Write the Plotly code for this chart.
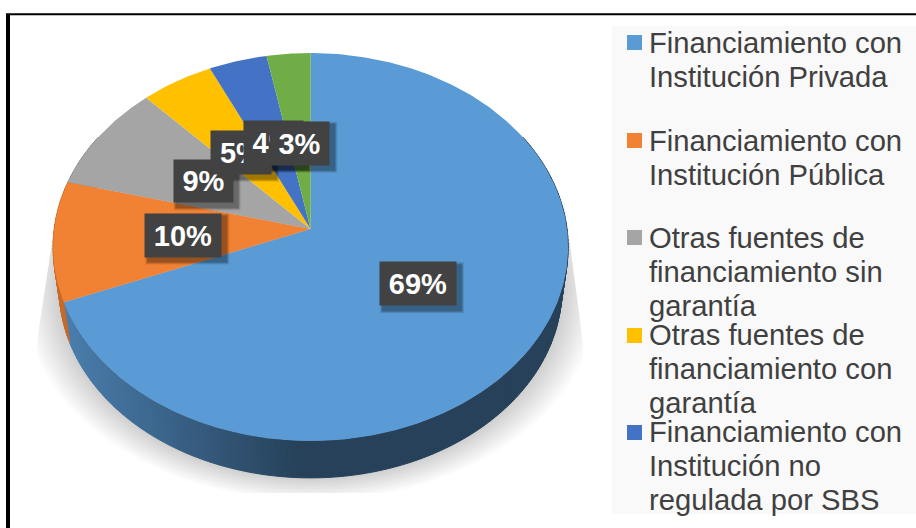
import numpy as np
import plotly.graph_objects as go

# ---- data ----
shares = [69, 10, 9, 5, 4, 3]
slice_colors = ["#5B9BD5", "#F28233", "#A5A5A5", "#FFC000", "#4472C4", "#70AD47"]
legend_lines = [
    ["Financiamiento con", "Institución Privada"],
    ["Financiamiento con", "Institución Pública"],
    ["Otras fuentes de", "financiamiento sin", "garantía"],
    ["Otras fuentes de", "financiamiento con", "garantía"],
    ["Financiamiento con", "Institución no", "regulada por SBS"],
]

# ---- drawing geometry (pixel-like axes over the 916x528 canvas) ----
CX, CY = 310.6, 229
A, B, K = 256.4, 192.3, 0.0928      # perspective disc
RIM_SCALE, RIM_Y = 0.976, 271
FONT = "Liberation Sans, Arial, sans-serif"
legend_first_baseline = [52, 150, 247, 344, 441]
legend_square_top = [35, 133, 230, 328, 425]
label_reach = [0.48, 0.495, 0.51, 0.52, 0.515, 0.49]


def disc(theta):
    s, c = np.sin(theta), np.cos(theta)
    w = 1 + K * c
    return A * s / w, B * c / w


def top_pt(theta):
    x, y = disc(theta)
    return CX + x, CY - y


def rim_pt(theta):
    x, y = disc(theta)
    return CX + RIM_SCALE * x, RIM_Y - RIM_SCALE * y


def shade(hex_color, f):
    r, g, b = (int(hex_color[i:i + 2], 16) for i in (1, 3, 5))
    return f"rgb({int(r * f)},{int(g * f)},{int(b * f)})"


fig = go.Figure()


def poly(xs, ys, color, line=False):
    fig.add_trace(go.Scatter(
        x=xs, y=ys, mode="lines", fill="toself", fillcolor=color,
        line=dict(color=color, width=1 if line else 0),
        hoverinfo="skip", showlegend=False))


# soft clipped shadow
th = np.radians(np.linspace(50, 310, 160))
for d in np.linspace(36, 2, 16):
    rx, ry = disc(th)
    xs = CX + RIM_SCALE * rx * (1 + d / 250)
    ys = RIM_Y - RIM_SCALE * ry * (1 + d / 420) + d * 0.14
    ys = np.minimum(ys, 493)
    left = np.where(ys < 340, 53 - (ys - 235) * 16 / 105, 37)
    right = np.where(ys < 340, 569 + (ys - 235) * 14 / 105, 583)
    xs = np.clip(xs, left, right)
    poly(list(xs) + [CX], list(ys) + [CY], "rgba(0,0,0,0.0135)")

edges = np.cumsum([0] + shares) / sum(shares) * 2 * np.pi

# rim of the disc, darkened towards the front
for i, col in enumerate(slice_colors):
    a0 = max(edges[i], np.radians(60))
    a1 = min(edges[i + 1], np.radians(300))
    if a1 <= a0:
        continue
    steps = np.linspace(a0, a1, max(2, int(np.degrees(a1 - a0)) + 1))
    for t0, t1 in zip(steps[:-1], steps[1:]):
        tm = (t0 + t1) / 2
        xm = rim_pt(tm)[0]
        if xm < 300:
            f = 0.42 + (300 - xm) / 235 * 0.40
        else:
            f = 0.42
        tx0, ty0 = top_pt(t0)
        tx1, ty1 = top_pt(t1)
        bx0, by0 = rim_pt(t0)
        bx1, by1 = rim_pt(t1)
        poly([tx0, tx1, bx1, bx0, tx0], [ty0, ty1, by1, by0, ty0], shade(col, f), line=True)

# top face
for i, col in enumerate(slice_colors):
    t = np.linspace(edges[i], edges[i + 1], max(8, int(shares[i] * 5)))
    px, py = top_pt(t)
    poly([CX] + list(px) + [CX], [CY] + list(py) + [CY], col)

# data labels
box_sizes = [(76, 43), (76, 43), (59, 42), (60, 43), (59, 43), (59, 43)]
for i, v in enumerate(shares):
    mid = (edges[i] + edges[i + 1]) / 2
    mx, my = disc(mid)
    lx = CX + label_reach[i] * mx
    ly = CY - label_reach[i] * my
    w, h = box_sizes[i]
    for grow, alpha in ((6, 0.10), (4, 0.14), (2, 0.18)):
        fig.add_shape(type="rect", x0=lx - w / 2 + 3 - grow / 2, x1=lx + w / 2 + 5 + grow / 2,
                      y0=ly - h / 2 + 3 - grow / 2, y1=ly + h / 2 + 5 + grow / 2,
                      fillcolor=f"rgba(0,0,0,{alpha})", line_width=0, layer="above")
    fig.add_annotation(x=lx, y=ly, text=f"<b>{v}%</b>", showarrow=False, width=w, height=h,
                       bgcolor="#424242", borderpad=0, align="center", valign="middle",
                       font=dict(family=FONT, size=29, color="#FFFFFF"))

# legend panel
fig.add_shape(type="rect", x0=612, x1=916, y0=26, y1=514, fillcolor="#F9F9F9",
              line_width=0, layer="below")
for lines, base, sq, col in zip(legend_lines, legend_first_baseline, legend_square_top, slice_colors):
    fig.add_shape(type="rect", x0=627, x1=642, y0=sq, y1=sq + 15, fillcolor=col,
                  line_width=0, layer="above")
    for n, line in enumerate(lines):
        fig.add_annotation(x=647.5, y=base + n * 34 - 9.5, text=line, showarrow=False,
                           xanchor="left", yanchor="middle", borderpad=0,
                           font=dict(family=FONT, size=29.2, color="#404040"))

# chart frame
fig.add_shape(type="line", x0=8, x1=8, y0=14, y1=528, line=dict(color="#000000", width=4), layer="above")
fig.add_shape(type="line", x0=6, x1=916, y0=14.3, y1=14.3, line=dict(color="#000000", width=2), layer="above")

fig.update_layout(
    width=916, height=528, margin=dict(l=0, r=0, t=0, b=0),
    paper_bgcolor="#FFFFFF", plot_bgcolor="#FFFFFF", showlegend=False,
    xaxis=dict(range=[0, 916], visible=False, fixedrange=True),
    yaxis=dict(range=[528, 0], visible=False, fixedrange=True),
)
fig.write_html("out.html", config=dict(displayModeBar=False),
               post_script="document.body.style.margin='0';")
